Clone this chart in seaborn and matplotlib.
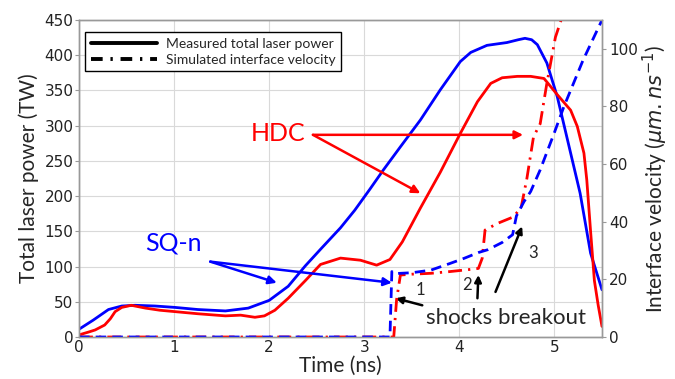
import numpy as np
import pandas as pd
import matplotlib
matplotlib.use("Agg")
import matplotlib.pyplot as plt
from matplotlib.lines import Line2D
import seaborn as sns

# ---- data ----
t_sq = [0, 0.15, 0.31, 0.45, 0.59, 0.8, 1.01, 1.25, 1.54, 1.78, 2.0, 2.2, 2.38, 2.55,
        2.75, 2.9, 3.06, 3.2, 3.38, 3.59, 3.8, 4.01, 4.12, 4.29, 4.5, 4.62, 4.69, 4.76,
        4.82, 4.92, 5.03, 5.13, 5.27, 5.38, 5.5]
p_sq = [11, 24, 39, 44, 45, 44, 42, 39, 37, 41, 52, 72, 101, 126,
        155, 180, 210, 237, 270, 308, 351, 391, 404, 414, 418, 422, 424, 422,
        415, 389, 341, 284, 204, 119, 67]

t_hdc = [0, 0.1, 0.17, 0.27, 0.33, 0.38, 0.45, 0.55, 0.7, 0.85, 1.01, 1.25, 1.54, 1.7,
         1.85, 1.95, 2.06, 2.2, 2.38, 2.54, 2.75, 2.96, 3.13, 3.27, 3.4, 3.59, 3.8, 4.01,
         4.19, 4.33, 4.45, 4.61, 4.75, 4.89, 5.03, 5.17, 5.24, 5.31, 5.34, 5.38, 5.42,
         5.46, 5.5]
p_hdc = [3, 7, 10, 17, 26, 36, 42, 45, 41, 38, 36, 33, 30, 31,
         28, 30, 38, 55, 80, 103, 112, 109, 102, 110, 135, 183, 234, 289,
         334, 360, 368, 370, 370, 367, 344, 322, 299, 261, 223, 150, 80,
         45, 15]

tv_sq = [0, 3.27, 3.29, 3.32, 3.5, 3.7, 3.9, 4.05, 4.2, 4.3, 4.45, 4.56, 4.6, 4.68,
         4.75, 4.85, 5.0, 5.1, 5.3, 5.5]
v_sq = [0, 0, 22.7, 22.0, 22.3, 23.2, 25.5, 27.3, 29.3, 30.3, 32.8, 35.5, 42, 47,
        50.5, 58, 71, 80, 96, 110]

tv_hdc = [0, 3.31, 3.34, 3.38, 3.5, 3.7, 3.9, 4.1, 4.2, 4.24, 4.27, 4.4, 4.57, 4.65,
          4.71, 4.78, 4.85, 4.92, 5.01, 5.12]
v_hdc = [0, 0, 13, 21.5, 21.8, 22.1, 22.7, 23.4, 23.8, 27.3, 37.1, 39.4, 41.7, 45,
         55, 69.5, 74, 88, 104, 115]

x_ticks = [0, 1, 2, 3, 4, 5]
y_ticks = [0, 50, 100, 150, 200, 250, 300, 350, 400, 450]
y2_ticks = [0, 20, 40, 60, 80, 100]

sns.set_style("white")
plt.rcParams['font.family'] = ['DejaVu Sans']
plt.rcParams['mathtext.fontset'] = 'dejavusans'
LAB = ['Lato', 'DejaVu Sans']
LW = 2.0

fig = plt.figure(figsize=(6.75, 3.79), dpi=100)
ax = fig.add_axes([79/675, 1-337/379, (602-79)/675, (337-20)/379])
ax2 = ax.twinx()

df_sq = pd.DataFrame({'t': t_sq, 'p': p_sq})
df_hdc = pd.DataFrame({'t': t_hdc, 'p': p_hdc})
dv_sq = pd.DataFrame({'t': tv_sq, 'v': v_sq})
dv_hdc = pd.DataFrame({'t': tv_hdc, 'v': v_hdc})

sns.lineplot(data=df_sq, x='t', y='p', ax=ax, color='#0000ff', lw=LW, sort=False)
sns.lineplot(data=df_hdc, x='t', y='p', ax=ax, color='#ff0000', lw=LW, sort=False)
sns.lineplot(data=dv_hdc, x='t', y='v', ax=ax2, color='#ff0000', lw=LW, sort=False,
             linestyle=(0, (5, 2.2, 0.8, 2.2)))
sns.lineplot(data=dv_sq, x='t', y='v', ax=ax2, color='#0000ff', lw=LW, sort=False,
             linestyle=(0, (3.8, 2.2)))

ax.set_xlim(0, 5.5)
ax.set_ylim(0, 450)
ax2.set_ylim(0, 110)
ax.set_xticks(x_ticks)
ax.set_yticks(y_ticks)
ax2.set_yticks(y2_ticks)
ax.grid(True, color='#d9d9d9', lw=0.8)
ax2.grid(False)
ax.set_axisbelow(True)
for a in (ax, ax2):
    for s in a.spines.values():
        s.set_color('#999999')
        s.set_linewidth(1.0)
ax.tick_params(axis='both', labelsize=11, length=3, color='#999999', pad=1, labelcolor='#222222')
ax2.tick_params(axis='y', labelsize=11, length=3, color='#999999', pad=2, labelcolor='#222222')
ax.tick_params(axis='x', length=0, pad=2)

ax.set_xlabel('Time (ns)', fontsize=15, family=LAB, labelpad=1)
ax.set_ylabel('Total laser power (TW)', fontsize=15, family=LAB, labelpad=4)
ax2.set_ylabel(r'Interface velocity ($\mu m.ns^{-1}$)', fontsize=15, family=LAB, labelpad=2)

handles = [Line2D([], [], color='black', lw=2.8),
           Line2D([], [], color='black', lw=2.8, linestyle=(0, (3, 2, 0.6, 2)))]
leg = ax2.legend(handles, ['Measured total laser power', 'Simulated interface velocity'],
                 loc='upper left', bbox_to_anchor=(0.0115, 0.962), borderaxespad=0,
                 fancybox=False, framealpha=1, edgecolor='black', handlelength=4.8,
                 handletextpad=0.6, prop={'family': LAB, 'size': 10}, borderpad=0.4,
                 labelspacing=0.3)
leg.get_frame().set_linewidth(1.0)

# annotations (left-axis data coords)
ax.text(2.09, 289, 'HDC', color='#ff0000', fontsize=18, family=LAB, ha='center', va='center')
ap_r = dict(arrowstyle='-|>', color='#ff0000', lw=1.8, mutation_scale=12, shrinkA=0, shrinkB=0)
ax.annotate('', xy=(4.67, 287), xytext=(2.46, 287), arrowprops=ap_r)
ax.annotate('', xy=(3.59, 204), xytext=(2.46, 287), arrowprops=ap_r)

ax.text(0.99, 133, 'SQ-n', color='#0000ff', fontsize=18, family=LAB, ha='center', va='center')
ap_b = dict(arrowstyle='-|>', color='#0000ff', lw=1.8, mutation_scale=12, shrinkA=0, shrinkB=0)
ax.annotate('', xy=(2.08, 77), xytext=(1.38, 107), arrowprops=ap_b)
ax.annotate('', xy=(3.29, 77), xytext=(1.38, 107), arrowprops=ap_b)

ap_k = dict(arrowstyle='-|>', color='black', lw=1.8, mutation_scale=10, shrinkA=0, shrinkB=0)
ax.annotate('', xy=(3.33, 55), xytext=(3.61, 45), arrowprops=ap_k)
ax.annotate('', xy=(4.20, 88), xytext=(4.19, 55), arrowprops=ap_k)
ax.annotate('', xy=(4.66, 157), xytext=(4.38, 64), arrowprops=ap_k)
ax.text(3.59, 67, '1', fontsize=12, family=LAB, ha='center', va='center')
ax.text(4.08, 74, '2', fontsize=12, family=LAB, ha='center', va='center')
ax.text(4.78, 119, '3', fontsize=12, family=LAB, ha='center', va='center')
ax.text(4.49, 27, 'shocks breakout', fontsize=16, family=LAB, ha='center', va='center')

fig.savefig('out.png', dpi=100)
